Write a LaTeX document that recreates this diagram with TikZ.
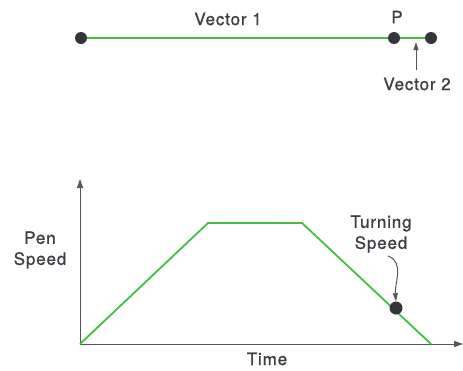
\documentclass[tikz,border=0pt]{standalone}
\usepackage{fontspec}
\setmainfont{TeX Gyre Heros}[LetterSpace=5,FakeBold=1]
\usetikzlibrary{arrows.meta}
\definecolor{lgreen}{RGB}{70,190,70}
\definecolor{dgray}{RGB}{60,62,68}
\definecolor{agray}{RGB}{85,85,90}
\begin{document}
\begin{tikzpicture}[x=1pt,y=-1pt,
  dot/.style={circle,fill=dgray!85!black,inner sep=0pt,minimum size=12pt},
  lbl/.style={text=dgray,font=\fontsize{17}{21}\selectfont,inner sep=1pt,align=center},
  gline/.style={lgreen,line width=1.8pt},
  axis/.style={agray,line width=1pt,-{Triangle[length=9pt,width=6pt]}}]
\useasboundingbox (0,0) rectangle (463,370);
% top vector
\node[dot] (a) at (81,38) {};
\node[dot] (p) at (394,38) {};
\node[dot] (b) at (431,38) {};
\draw[gline] (a) -- (p);
\draw[gline] (p) -- (b);
\node[lbl] (v1) at (228,19) {Vector 1};
\node[lbl] (pl) at (397,17) {P};
\node[lbl] (v2) at (417,84) {Vector 2};
\coordinate (v2t) at (416,42);
\draw[agray,line width=1pt,-{Triangle[length=8pt,width=5pt]}] (416,70) -- (v2t);
% graph
\coordinate (o) at (80,344);
\coordinate (yt) at (80,179);
\coordinate (xt) at (463,344);
\draw[axis] (o) -- (yt);
\draw[axis] (o) -- (xt);
\coordinate (t1) at (208,223);
\coordinate (t2) at (302,223);
\coordinate (t3) at (431,344);
\draw[gline,line join=miter] (o) -- (t1) -- (t2) -- (t3);
\node[dot,minimum size=13pt] (ts) at (396,308) {};
\node[lbl] (tsl) at (381,234) {Turning\\Speed};
\draw[agray,line width=1pt,-{Triangle[length=8pt,width=5pt]}] (388,256) to[out=-20,in=95] (ts.north);
\node[lbl] (ps) at (40,250) {Pen\\Speed};
\node[lbl] (tm) at (267,359) {Time};
\end{tikzpicture}
\end{document}
